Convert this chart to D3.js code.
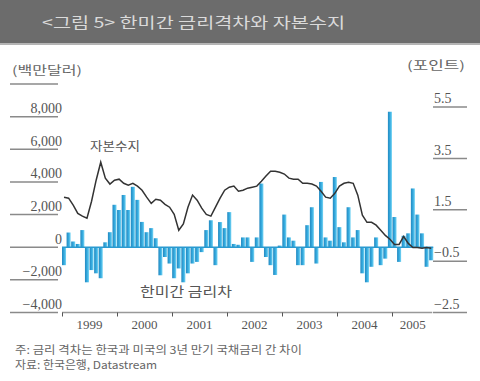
<!DOCTYPE html>
<html>
<head>
<meta charset="utf-8">
<title></title>
<script src="https://d3js.org/d3.v7.min.js"></script>
<style>
  body { margin: 0; background: #fff; }
  svg text { font-family: "Liberation Serif", "Noto Sans CJK KR", serif; }
  .kr { font-family: "Noto Sans CJK KR", sans-serif; }
</style>
</head>
<body>
<svg id="chart" width="480" height="381"></svg>
<script>

// monthly data, Jan 1999 .. Sep 2005
var firstYear = 1999
var months = d3.range(81)

// capital account (millions of dollars), bars on left axis
var capital = [
  -1100, 900, 350, 200, 1050, -2150, -1400, -1600, -1900, 300, 920, 2600,
  2280, 3200, 2280, 3700, 2900, 1550, 920, 1170, 550, -1720, -600, -1000,
  -1900, -1300, -2150, -1600, -1000, -900, -300, 1050, 1650, -1100, 1540, 1170,
  2150, 200, 150, 600, 600, -900, 600, 3900, -600, -1100, -1700, 100,
  2000, 600, 400, -1100, -1100, 1350, 2450, -1000, 4000, 600, 400, 4300,
  1230, 300, 2450, 600, 1050, -1600, -2150, -1200, 600, -1100, -700, 8300,
  1850, -900, 700, 850, 3600, 2000, 850, -1200, -800
]

// Korea-US interest rate spread (points), line on right axis
var spread = [
  1.99, 1.95, 1.68, 1.36, 1.25, 1.17, 1.83, 2.65, 3.35, 2.73, 2.5, 2.65,
  2.69, 2.53, 2.46, 2.53, 2.42, 2.26, 1.99, 1.75, 1.91, 1.87, 1.71, 1.6,
  1.32, 0.7, 0.95, 1.6, 2.07, 1.87, 1.56, 1.32, 1.25, 1.6, 1.95, 2.26,
  2.38, 2.42, 2.22, 2.26, 2.34, 2.38, 2.42, 2.61, 2.81, 3.0, 3.0, 2.96,
  2.89, 2.73, 2.69, 2.69, 2.53, 2.53, 2.5, 2.42, 2.22, 1.99, 1.95, 2.14,
  2.42, 2.53, 2.57, 2.53, 2.07, 1.29, 1.01, 1.01, 0.9, 0.7, 0.5, 0.35,
  0.15, 0.15, 0.46, 0.19, 0.03, 0.03, 0.0, 0.03, 0.0
]

var years = [1999, 2000, 2001, 2002, 2003, 2004, 2005]
var leftTicks = [-4000, -2000, 0, 2000, 4000, 6000, 8000, 10000]
var rightTicks = [-2.5, -0.5, 1.5, 3.5, 5.5]

var title = "<그림 5> 한미간 금리격차와 자본수지"
var leftUnit = "(백만달러)"
var rightUnit = "(포인트)"
var barLabel = "한미간 금리차"
var lineLabel = "자본수지"
var note1 = "주: 금리 격차는 한국과 미국의 3년 만기 국채금리 간 차이"
var note2 = "자료: 한국은행, Datastream"

var svg = d3.select("#chart")

var x0 = 62, x1 = 62 + months.length * 55 / 12
var yTop = 84, yBot = 312.5

var x = d3.scaleBand().domain(months).range([x0, x1]).paddingInner(0.12)
var xYear = d3.scaleLinear().domain([firstYear, firstYear + months.length / 12]).range([x0, x1])
var yL = d3.scaleLinear().domain([-4000, 10000]).range([yBot, yTop])
var yR = d3.scaleLinear().domain([-2.5, 5.5]).range([yBot, 107])

// title bar
svg.append("rect").attr("x", 0).attr("y", 0).attr("width", 480).attr("height", 43).attr("fill", "#6c6c6c")
svg.append("rect").attr("x", 0).attr("y", 43).attr("width", 480).attr("height", 2).attr("fill", "#b4b4b4")
svg.append("text").attr("class", "kr")
  .attr("x", 42).attr("y", 28)
  .attr("textLength", 303).attr("lengthAdjust", "spacingAndGlyphs")
  .attr("fill", "#dadada").style("font-size", "15px")
  .text(title)

// unit labels
svg.append("text").attr("class", "kr").attr("x", 12).attr("y", 75)
  .attr("textLength", 70).attr("lengthAdjust", "spacingAndGlyphs")
  .attr("fill", "#666").style("font-size", "12px").text(leftUnit)
svg.append("text").attr("class", "kr").attr("x", 407).attr("y", 70)
  .attr("textLength", 58).attr("lengthAdjust", "spacingAndGlyphs")
  .attr("fill", "#666").style("font-size", "12px").text(rightUnit)

// short rules under tick labels
svg.append("g").selectAll("line").data(leftTicks).enter().append("line")
  .attr("x1", 10).attr("x2", 58)
  .attr("y1", function(d) { return yL(d) }).attr("y2", function(d) { return yL(d) })
  .style("stroke", "#8a8a8a").style("stroke-width", 1.5)

svg.append("g").selectAll("line").data(rightTicks).enter().append("line")
  .attr("x1", 433).attr("x2", 467)
  .attr("y1", function(d) { return yR(d) }).attr("y2", function(d) { return yR(d) })
  .style("stroke", "#8a8a8a").style("stroke-width", 1.5)

// left axis labels
var axL = svg.append("g").attr("transform", "translate(62,0)")
  .call(d3.axisLeft(yL).tickValues(leftTicks.slice(0, -1)).tickSize(0).tickPadding(0).tickFormat(d3.format(",")))
axL.select(".domain").remove()
axL.selectAll("text").attr("dy", "-0.3em").attr("fill", "#555").style("font-size", "14px")
  .style("font-family", "Liberation Serif")

// right axis labels
var axR = svg.append("g").attr("transform", "translate(434,0)")
  .call(d3.axisRight(yR).tickValues(rightTicks).tickSize(0).tickPadding(0).tickFormat(d3.format(".1f")))
axR.select(".domain").remove()
axR.selectAll("text").attr("dy", "-0.3em").attr("fill", "#555").style("font-size", "14px")
  .style("font-family", "Liberation Serif")

// bar gradient
var grad = svg.append("defs").append("linearGradient").attr("id", "barGrad")
  .attr("x1", "0").attr("x2", "1").attr("y1", "0").attr("y2", "0")
grad.append("stop").attr("offset", "0%").attr("stop-color", "#2389c0")
grad.append("stop").attr("offset", "55%").attr("stop-color", "#36ace0")
grad.append("stop").attr("offset", "100%").attr("stop-color", "#7ad6f4")

// bars
svg.append("g").selectAll("rect").data(months).enter().append("rect")
  .attr("x", function(i) { return x(i) })
  .attr("width", x.bandwidth())
  .attr("y", function(i) { return yL(Math.max(0, capital[i])) })
  .attr("height", function(i) { return Math.abs(yL(capital[i]) - yL(0)) })
  .attr("fill", "url(#barGrad)")

// zero line
svg.append("line").attr("x1", x0).attr("x2", x1)
  .attr("y1", yL(0)).attr("y2", yL(0))
  .style("stroke", "#2a9ad0").style("stroke-width", 1.5)

// spread line
var line = d3.line()
  .x(function(i) { return x(i) + x.bandwidth() / 2 })
  .y(function(i) { return yR(spread[i]) })
svg.append("path").datum(months)
  .attr("d", line)
  .style("fill", "none").style("stroke", "#333").style("stroke-width", 1.5)

// x axis
var axX = svg.append("g").attr("transform", "translate(0," + yBot + ")")
  .call(d3.axisBottom(xYear).tickValues(years).tickSize(4).tickFormat(""))
axX.select(".domain").attr("d", "M" + x0 + ",0H" + (x1 - 1)).style("stroke", "#999").style("stroke-width", 1.5)
axX.selectAll(".tick line").style("stroke", "#555")

svg.append("g").selectAll("text").data(years).enter().append("text")
  .attr("x", function(d) { return (xYear(d) + Math.min(xYear(d + 1), x1)) / 2 })
  .attr("y", 329)
  .attr("text-anchor", "middle")
  .attr("fill", "#555").style("font-size", "13px")
  .text(function(d) { return d })

// series labels
svg.append("text").attr("class", "kr").attr("x", 90).attr("y", 151)
  .attr("textLength", 50).attr("lengthAdjust", "spacingAndGlyphs")
  .attr("fill", "#555").style("font-size", "12px").text(lineLabel)
svg.append("text").attr("class", "kr").attr("x", 140).attr("y", 296)
  .attr("textLength", 92).attr("lengthAdjust", "spacingAndGlyphs")
  .attr("fill", "#555").style("font-size", "13px").text(barLabel)

// notes
svg.append("text").attr("class", "kr").attr("x", 15).attr("y", 354)
  .attr("textLength", 287).attr("lengthAdjust", "spacingAndGlyphs")
  .attr("fill", "#666").style("font-size", "11px").text(note1)
svg.append("text").attr("class", "kr").attr("x", 15).attr("y", 369)
  .attr("textLength", 142).attr("lengthAdjust", "spacingAndGlyphs")
  .attr("fill", "#666").style("font-size", "11px").text(note2)

</script>
</body>
</html>
